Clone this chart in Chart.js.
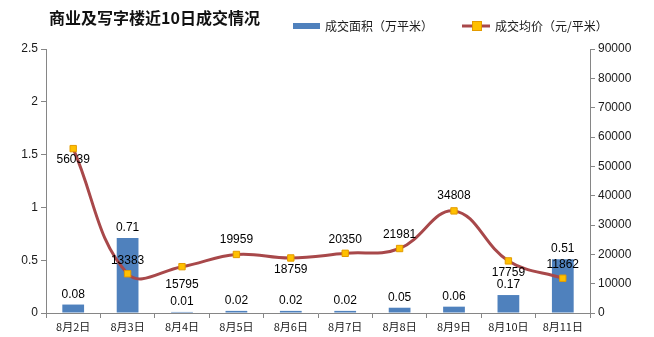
<!DOCTYPE html>
<html>
<head>
<meta charset="utf-8">
<script src="https://cdn.jsdelivr.net/npm/chart.js@4/dist/chart.umd.min.js"></script>
<style>
  html, body { margin: 0; padding: 0; background: #fff; }
  #wrap { width: 654px; height: 337px; position: relative; }
</style>
</head>
<body>
<div id="wrap"><canvas id="chart"></canvas></div>
<script>
// 日期
const days = ["8月2日", "8月3日", "8月4日", "8月5日", "8月6日", "8月7日", "8月8日", "8月9日", "8月10日", "8月11日"];
// 成交面积（万平米）
const area = [0.08, 0.71, 0.01, 0.02, 0.02, 0.02, 0.05, 0.06, 0.17, 0.51];
// 成交均价（元/平米）
const price = [56039, 13383, 15795, 19959, 18759, 20350, 21981, 34808, 17759, 11862];

// 均价标签相对数据点的上下偏移
const priceLabelShift = [11, -13, 18, -15, 12, -14, -14, -15, 12, -14];

const TXT = "#1a1a1a";
const AXIS = "#868686";
const FONT = '"Liberation Sans", "Noto Sans CJK SC", sans-serif';
const CJK = '"Noto Sans CJK SC", "Liberation Sans", sans-serif';

// 标题、图例、数据标签都自己画
const decor = {
  id: "decor",
  afterDatasetsDraw(chart) {
    const c = chart.ctx;
    c.save();

    // 标题
    c.font = "bold 16px " + CJK;
    c.fillStyle = "#111";
    c.textAlign = "left";
    c.textBaseline = "middle";
    c.fillText("商业及写字楼近10日成交情况", 49, 18);

    // 图例
    c.font = "12px " + CJK;
    c.fillStyle = "#4F81BD";
    c.fillRect(293, 23, 27, 6);
    c.fillStyle = TXT;
    c.fillText("成交面积（万平米）", 325, 26);

    c.strokeStyle = "#A8484A";
    c.lineWidth = 3;
    c.beginPath();
    c.moveTo(462, 26);
    c.lineTo(490, 26);
    c.stroke();
    c.fillStyle = "#FFC000";
    c.strokeStyle = "#E39B00";
    c.lineWidth = 1;
    c.fillRect(472.5, 21.5, 9, 9);
    c.strokeRect(472.5, 21.5, 9, 9);
    c.fillStyle = TXT;
    c.fillText("成交均价（元/平米）", 495, 26);

    // 数据标签
    c.font = "12px " + FONT;
    c.textAlign = "center";
    c.fillStyle = "#000";
    const bars = chart.getDatasetMeta(1).data;
    bars.forEach((b, i) => {
      c.fillText(String(area[i]), b.x, b.y - 10);
    });
    const pts = chart.getDatasetMeta(0).data;
    pts.forEach((p, i) => {
      c.fillText(String(price[i]), p.x, p.y + priceLabelShift[i]);
    });

    c.restore();
  }
};

const axisGrid = {
  drawOnChartArea: false,
  drawTicks: true,
  tickLength: 5,
  color: AXIS,
  lineWidth: 1
};

new Chart(document.getElementById("chart"), {
  data: {
    labels: days,
    datasets: [
      {
        type: "line",
        label: "成交均价（元/平米）",
        data: price,
        yAxisID: "y1",
        borderColor: "#A8484A",
        borderWidth: 3,
        tension: 0.4,
        pointStyle: "rect",
        pointRadius: 4.5,
        pointBackgroundColor: "#FFC000",
        pointBorderColor: "#E39B00",
        pointBorderWidth: 1,
        order: 0
      },
      {
        type: "bar",
        label: "成交面积（万平米）",
        data: area,
        yAxisID: "y",
        backgroundColor: "#4F81BD",
        categoryPercentage: 1,
        barPercentage: 0.4,
        order: 1
      }
    ]
  },
  options: {
    responsive: true,
    maintainAspectRatio: false,
    animation: false,
    layout: { padding: { top: 49, left: 0, right: 0, bottom: 0 } },
    plugins: {
      legend: { display: false },
      tooltip: { enabled: false }
    },
    scales: {
      x: {
        offset: true,
        grid: Object.assign({}, axisGrid, { offset: true }),
        border: { color: AXIS },
        ticks: { color: TXT, font: { size: 11, family: CJK }, padding: 2, maxRotation: 0 },
        afterFit(s) { s.height = 24; }
      },
      y: {
        position: "left",
        min: 0,
        max: 2.5,
        grid: axisGrid,
        border: { color: AXIS },
        ticks: {
          stepSize: 0.5,
          color: TXT,
          font: { size: 12, family: FONT },
          padding: 3,
          callback: v => String(v)
        },
        afterFit(s) { s.width = 46; }
      },
      y1: {
        position: "right",
        min: 0,
        max: 90000,
        grid: axisGrid,
        border: { color: AXIS },
        ticks: {
          stepSize: 10000,
          color: TXT,
          font: { size: 12, family: FONT },
          padding: 3,
          callback: v => String(v)
        },
        afterFit(s) { s.width = 64; }
      }
    }
  },
  plugins: [decor]
});
</script>
</body>
</html>
